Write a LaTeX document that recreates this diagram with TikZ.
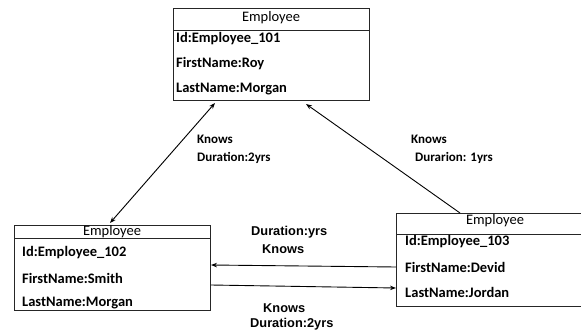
\documentclass[tikz,border=0pt]{standalone}
\usepackage{fontspec}
\setmainfont{Carlito}
\newfontfamily\arialf{Liberation Sans}
\usetikzlibrary{arrows.meta,calc}
\begin{document}
\begin{tikzpicture}[x=1pt,y=-1pt,
  boxline/.style={line width=1pt,draw=black!85},
  box/.style={boxline,draw,minimum width=196pt,inner sep=0pt,anchor=north west},
  hdr/.style={inner sep=0pt,font=\fontsize{14.5}{16}\selectfont},
  attr/.style={inner sep=0pt,anchor=west,font=\fontsize{14.5}{16}\selectfont\bfseries},
  lblc/.style={inner sep=0pt,anchor=west,font=\fontsize{13}{15}\selectfont\bfseries},
  lbla/.style={inner sep=0pt,anchor=west,font=\fontsize{12.8}{15}\selectfont\arialf\bfseries},
  arr/.style={line width=0.9pt,>={Stealth[length=6pt,width=4.5pt]}}]
\useasboundingbox (0,0) rectangle (581,332);
\clip (0,0) rectangle (581,332);
\fill[white] (0,0) rectangle (581,332);
% top box
\node[box,minimum height=92pt] (e1) at (173,8) {};
\draw[boxline] ($(e1.north west)+(0,22)$) -- ($(e1.north east)+(0,22)$);
\node[hdr] (e1h) at (271,18) {Employee};
\node[attr] (e1a) at (176,39) {Id:Employee\_101};
\node[attr] (e1b) at (176,64) {FirstName:Roy};
\node[attr] (e1c) at (176,89) {LastName:Morgan};
% left box
\node[box,minimum height=85pt] (e2) at (14,225) {};
\draw[boxline] ($(e2.north west)+(0,13)$) -- ($(e2.north east)+(0,13)$);
\node[hdr] (e2h) at (112,232) {Employee};
\node[attr] (e2a) at (22,253) {Id:Employee\_102};
\node[attr] (e2b) at (22,278) {FirstName:Smith};
\node[attr] (e2c) at (22,303) {LastName:Morgan};
% right box (cut by the right margin)
\node[minimum width=198pt,minimum height=93pt,inner sep=0pt,anchor=north west] (e3) at (396,213) {};
\draw[boxline] (e3.north east) -- (e3.north west) -- (e3.south west) -- (e3.south east);
\draw[boxline] ($(e3.north west)+(0,21)$) -- ($(e3.north east)+(0,21)$);
\node[hdr] (e3h) at (495,221) {Employee};
\node[attr] (e3a) at (405,242) {Id:Employee\_103};
\node[attr] (e3b) at (405,267) {FirstName:Devid};
\node[attr] (e3c) at (405,292) {LastName:Jordan};
% connectors
\draw[arr,<->] ($(e1.south west)+(42,2)$) -- ($(e2.north west)+(96,-2)$);
\draw[arr,->] ($(e3.north west)+(64,0)$) -- ($(e1.south west)+(133,3)$);
\draw[arr,->] ($(e3.north west)+(0,54)$) -- ($(e2.north east)+(0,40)$);
\draw[arr,->] ($(e2.north east)+(0,60)$) -- ($(e3.north west)+(0,75)$);
% labels
\node[lblc] (l1a) at (197,139) {Knows};
\node[lblc] (l1b) at (197,158) {Duration:2yrs};
\node[lblc] (l2a) at (411,139) {Knows};
\node[lblc] (l2b) at (415,158) {Durarion: 1yrs};
\node[lbla] (l3a) at (251,232) {Duration:yrs};
\node[lbla] (l3b) at (262,249) {Knows};
\node[lbla] (l4a) at (263,308) {Knows};
\node[lbla] (l4b) at (250,324) {Duration:2yrs};
\end{tikzpicture}
\end{document}
